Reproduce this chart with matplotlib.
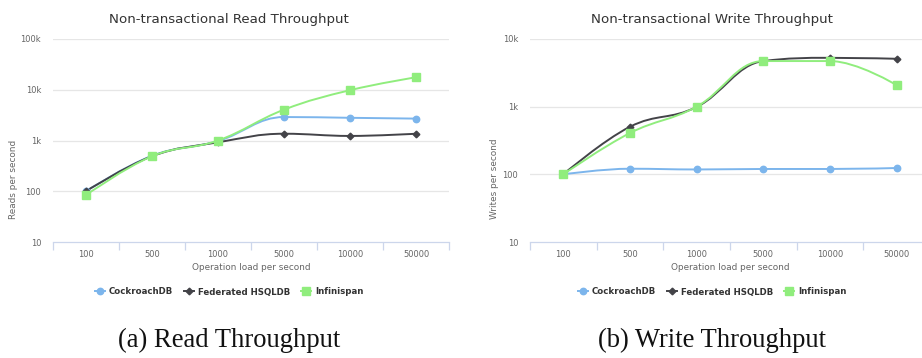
import numpy as np
import matplotlib
matplotlib.use("Agg")
import matplotlib.pyplot as plt
from matplotlib.path import Path
from matplotlib.patches import PathPatch
from matplotlib.lines import Line2D

plt.rcParams['font.family'] = ['DejaVu Sans']

loads = ["100", "500", "1000", "5000", "10000", "50000"]
series_names = ["CockroachDB", "Federated HSQLDB", "Infinispan"]

read_cockroach = [100, 500, 975, 2900, 2800, 2700]
read_federated = [100, 490, 920, 1360, 1230, 1360]
read_infinispan = [84, 490, 1000, 4050, 9800, 17600]

write_cockroach = [100, 121, 118, 120, 120, 124]
write_federated = [100, 505, 990, 4720, 5270, 5100]
write_infinispan = [100, 408, 1000, 4720, 4720, 2080]

colors = ["#7cb5ec", "#434348", "#90ed7d"]
markers = ["o", "D", "s"]
msizes = [4.6, 3.4, 5.4]

GRID = "#e6e6e6"
AXIS = "#ccd6eb"
LABEL = "#666666"
TITLE = "#333333"

W, H = 922, 358


def spline_path(xs, ys, smoothing=1.5):
    """Smooth curve through the points (x, log10 y), cubic Bezier segments."""
    lx = np.log10(np.asarray(ys, dtype=float))
    xs = np.asarray(xs, dtype=float)
    n = len(xs)
    denom = smoothing + 1
    left = [None] * n
    right = [None] * n
    for i in range(1, n - 1):
        px, py = xs[i], lx[i]
        ax_, ay = xs[i - 1], lx[i - 1]
        nx, ny = xs[i + 1], lx[i + 1]
        lcx = (smoothing * px + ax_) / denom
        lcy = (smoothing * py + ay) / denom
        rcx = (smoothing * px + nx) / denom
        rcy = (smoothing * py + ny) / denom
        if rcx != lcx:
            corr = ((rcy - lcy) * (rcx - px)) / (rcx - lcx) + py - rcy
            lcy += corr
            rcy += corr
        if lcy > ay and lcy > py:
            lcy = max(ay, py)
            rcy = 2 * py - lcy
        elif lcy < ay and lcy < py:
            lcy = min(ay, py)
            rcy = 2 * py - lcy
        if rcy > ny and rcy > py:
            rcy = max(ny, py)
            lcy = 2 * py - rcy
        elif rcy < ny and rcy < py:
            rcy = min(ny, py)
            lcy = 2 * py - rcy
        left[i] = (lcx, lcy)
        right[i] = (rcx, rcy)
    verts = [(xs[0], lx[0])]
    codes = [Path.MOVETO]
    for i in range(1, n):
        c1 = right[i - 1] if right[i - 1] is not None else (xs[i - 1], lx[i - 1])
        c2 = left[i] if left[i] is not None else (xs[i], lx[i])
        verts += [c1, c2, (xs[i], lx[i])]
        codes += [Path.CURVE4] * 3
    verts = [(vx, 10 ** vy) for vx, vy in verts]
    return Path(verts, codes)


def draw_panel(fig, ax, data, title, ylabel, ymax, caption, cx, ylabel_x):
    x = np.arange(len(loads))
    ax.set_yscale("log")
    ax.set_ylim(10, ymax)
    ax.set_xlim(-0.5, len(loads) - 0.5)
    for v in 10.0 ** np.arange(1, np.log10(ymax) + 1):
        if v > 10:
            ax.axhline(v, color=GRID, lw=0.9, zorder=0)
    for vals, c, m, ms in zip(data, colors, markers, msizes):
        ax.add_patch(PathPatch(spline_path(x, vals), fill=False, edgecolor=c,
                               lw=1.4, zorder=2, capstyle="round"))
        ax.plot(x, vals, ls="none", marker=m, ms=ms, color=c, mec=c, zorder=3)
    for s in ["top", "right", "left"]:
        ax.spines[s].set_visible(False)
    ax.spines["bottom"].set_color(AXIS)
    ax.spines["bottom"].set_linewidth(0.9)
    ax.set_xticks(x)
    ax.set_xticklabels(loads)
    ax.set_xticks(np.arange(-0.5, len(loads)), minor=True)
    ax.tick_params(axis="x", which="major", length=0, pad=6, labelsize=6, labelcolor=LABEL)
    ax.tick_params(axis="x", which="minor", length=6, width=0.9, color=AXIS)
    ax.yaxis.set_major_locator(matplotlib.ticker.LogLocator(base=10, numticks=10))
    ax.yaxis.set_minor_locator(matplotlib.ticker.NullLocator())
    fmt = {10: "10", 100: "100", 1000: "1k", 10000: "10k", 100000: "100k"}
    ax.yaxis.set_major_formatter(matplotlib.ticker.FuncFormatter(
        lambda v, p: fmt.get(int(round(v)), "")))
    ax.tick_params(axis="y", length=0, pad=8.5, labelsize=6, labelcolor=LABEL)
    ax.set_xlabel("Operation load per second", fontsize=6.4, color=LABEL, labelpad=3)
    ax.set_ylabel(ylabel, fontsize=6.4, color=LABEL)
    ax.yaxis.set_label_coords(ylabel_x, 0.5, transform=fig.transFigure)

    fig.text(cx / W, 1 - 19 / H, title, ha="center", va="center",
             fontsize=9.6, color=TITLE)
    handles = [Line2D([], [], color=c, marker=m, ms=ms, lw=1.4)
               for c, m, ms in zip(colors, markers, msizes)]
    leg = fig.legend(handles, series_names, loc="center",
                     bbox_to_anchor=(cx / W, 1 - 292 / H), ncol=3, frameon=False,
                     prop={"size": 6.2, "weight": "bold"}, handlelength=1.2,
                     handletextpad=0.4, columnspacing=1.3)
    for t in leg.get_texts():
        t.set_color(TITLE)
    fig.text(cx / W, 1 - 340 / H, caption, ha="center", va="center",
             fontsize=19.2, family="Liberation Serif", color="#111111")


fig = plt.figure(figsize=(W / 100, H / 100), dpi=100)
ax1 = fig.add_axes([53 / W, 116 / H, 396 / W, 203 / H])
ax2 = fig.add_axes([530 / W, 116 / H, 400 / W, 203 / H])

draw_panel(fig, ax1, [read_cockroach, read_federated, read_infinispan],
           "Non-transactional Read Throughput", "Reads per second", 1e5,
           "(a) Read Throughput", 229, 18 / W)
draw_panel(fig, ax2, [write_cockroach, write_federated, write_infinispan],
           "Non-transactional Write Throughput", "Writes per second", 1e4,
           "(b) Write Throughput", 712, 499 / W)

fig.savefig("out.png", dpi=100)
